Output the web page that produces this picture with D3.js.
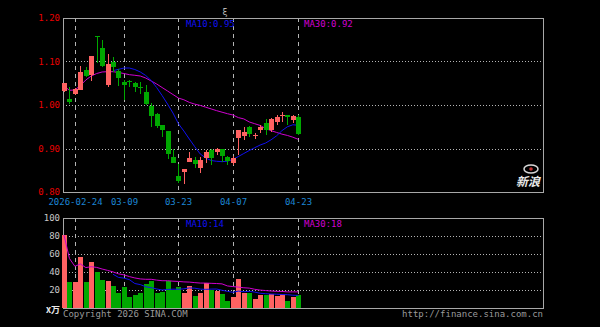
<!DOCTYPE html>
<html>
<head>
<meta charset="utf-8">
<script src="https://cdn.jsdelivr.net/npm/d3@7"></script>
<style>
  html, body { margin: 0; padding: 0; background: #000; }
  svg { display: block; }
  text { font-family: "DejaVu Sans Mono", monospace; font-size: 9px; }
</style>
</head>
<body>
<svg id="chart" width="600" height="327"></svg>
<script>
// trading days shown on the chart
const dates = [
  '2026-02-12', '2026-02-13', '2026-02-24', '2026-02-25', '2026-02-26', '2026-02-27',
  '2026-03-02', '2026-03-03', '2026-03-04', '2026-03-05', '2026-03-06', '2026-03-09',
  '2026-03-10', '2026-03-11', '2026-03-12', '2026-03-13', '2026-03-16', '2026-03-17',
  '2026-03-18', '2026-03-19', '2026-03-20', '2026-03-23', '2026-03-24', '2026-03-25',
  '2026-03-26', '2026-03-27', '2026-03-30', '2026-03-31', '2026-04-01', '2026-04-02',
  '2026-04-03', '2026-04-07', '2026-04-08', '2026-04-09', '2026-04-10', '2026-04-13',
  '2026-04-14', '2026-04-15', '2026-04-16', '2026-04-17', '2026-04-20', '2026-04-21',
  '2026-04-22', '2026-04-23'
];

const opens = [
  1.032, 1.014, 1.025, 1.0345, 1.0805, 1.069, 1.159, 1.130, 1.046, 1.0996, 1.0788,
  1.0536, 1.0552, 1.050, 1.042, 1.0306, 0.9984, 0.979, 0.953, 0.941, 0.881, 0.8375,
  0.8467, 0.869, 0.8736, 0.855, 0.8775, 0.8966, 0.891, 0.898, 0.880, 0.866, 0.9234,
  0.9294, 0.949, 0.929, 0.944, 0.958, 0.9425, 0.962, 0.975, 0.977, 0.965, 0.973
];
const closes = [
  1.050, 1.006, 1.036, 1.0766, 1.0674, 1.1126, 1.156, 1.0897, 1.0936, 1.088, 1.0635,
  1.0476, 1.0529, 1.041, 1.0405, 1.004, 0.9755, 0.952, 0.9425, 0.889, 0.868, 0.826,
  0.853, 0.878, 0.8637, 0.8736, 0.891, 0.879, 0.898, 0.883, 0.8713, 0.8775, 0.9425,
  0.938, 0.933, 0.931, 0.950, 0.941, 0.968, 0.973, 0.977, 0.973, 0.975, 0.935
];
const highs = [
  1.051, 1.041, 1.038, 1.0897, 1.0867, 1.1126, 1.159, 1.149, 1.117, 1.1097, 1.082,
  1.0575, 1.0575, 1.053, 1.053, 1.046, 1.004, 0.982, 0.9535, 0.941, 0.900, 0.864,
  0.853, 0.891, 0.881, 0.880, 0.8966, 0.900, 0.902, 0.900, 0.882, 0.883, 0.9425,
  0.950, 0.952, 0.935, 0.955, 0.968, 0.971, 0.977, 0.985, 0.978, 0.978, 0.977
];
const lows = [
  1.031, 1.002, 1.023, 1.0345, 1.065, 1.055, 1.096, 1.088, 1.042, 1.0766, 1.043,
  1.0115, 1.0407, 1.031, 1.025, 1.000, 0.949, 0.948, 0.927, 0.877, 0.866, 0.821,
  0.8177, 0.869, 0.8545, 0.843, 0.866, 0.8628, 0.885, 0.870, 0.862, 0.862, 0.886,
  0.919, 0.927, 0.922, 0.935, 0.930, 0.937, 0.955, 0.962, 0.954, 0.958, 0.931
];

// price moving averages as drawn on the chart
const ma10 = [
  null, null, null, null, null, null, null, null, null, 1.0790, 1.0820,
  1.0850, 1.0850, 1.0816, 1.0759, 1.0678, 1.0563, 1.0402, 1.0218, 1.0023, 0.9816, 0.9570,
  0.9402, 0.9218, 0.9041, 0.8874, 0.8782, 0.8724, 0.8706, 0.8697, 0.8708, 0.8750, 0.8816,
  0.8885, 0.8954, 0.9018, 0.9080, 0.9126, 0.9200, 0.9290, 0.9410, 0.9500, 0.9545, 0.9535
];
const ma30 = [
  1.0437, 1.0338, 1.0345, 1.0448, 1.0575, 1.0667, 1.0724, 1.0759, 1.0766, 1.0766, 1.0747,
  1.0724, 1.0697, 1.0683, 1.0667, 1.0620, 1.0552, 1.0483, 1.0402, 1.0322, 1.0241, 1.0160,
  1.0120, 1.0060, 1.0020, 0.9990, 0.9950, 0.9910, 0.9870, 0.9835, 0.9800, 0.9770, 0.9710,
  0.9680, 0.9610, 0.9570, 0.9530, 0.9460, 0.9410, 0.9370, 0.9330, 0.9300, 0.9260, 0.9210
];

// volume (x10k) and its moving averages
const volumes = [
  81, 29, 29, 57, 28.5, 51, 40, 31, 30, 24.5, 17,
  23.7, 12, 14.4, 16.3, 26.7, 30.4, 17, 18, 30, 20, 23,
  17, 24.4, 13.3, 17, 27.4, 20, 19.3, 15.5, 7.8, 11.8, 31.8,
  17, 17, 9.6, 14.4, 14.4, 15.5, 13.3, 15.5, 8.1, 12.6, 14.4
];
const volMa10 = [
  null, null, null, null, null, null, null, null, null, 37.5, 34,
  33.2, 31.5, 27.2, 26, 23.6, 22.6, 21.2, 20, 20.6, 20.9, 20.8,
  21.3, 22.3, 22, 21, 20.7, 21, 21.1, 19.7, 18.5, 17.4, 18.8,
  18.1, 18.5, 17.7, 16.4, 15.9, 15.5, 15.3, 15, 14.8, 14.2, 14
];
const volMa30 = [
  81, 55, 46.3, 49, 44.9, 45.9, 45.1, 43.3, 41.8, 40.1, 38,
  36.8, 34.9, 33.4, 32.3, 31.9, 31.9, 31, 30.3, 30.3, 29.8, 29.5,
  29, 28.8, 28.2, 27.7, 27.7, 27.4, 27.2, 26.8, 24.5, 23.8, 23.2,
  22.5, 22.1, 20.8, 19.9, 19.4, 18.9, 18.5, 18.4, 17.9, 17.9, 17.9
];

const dateTicks = ['2026-02-24', '2026-03-09', '2026-03-23', '2026-04-07', '2026-04-23'];
const priceTicks = [0.80, 0.90, 1.00, 1.10, 1.20];
const priceGrid = [0.90, 1.00, 1.10];
const volTicks = [20, 40, 60, 80, 100];
const volGrid = [20, 40, 60, 80];

const UP = '#ff6262', DOWN = '#00a800';
const BLUE = '#1010f0', MAGENTA = '#d000d0';
const FRAME = '#a8a8a8', GRID = '#b4b4b4';

const left = 63, right = 543;
const priceTop = 18, priceBottom = 192;
const volTop = 218, volBottom = 308;

const svg = d3.select('#chart');
svg.append('rect').attr('width', 600).attr('height', 327).attr('fill', '#000');

const x = d3.scaleLinear().domain([0, dates.length - 1]).range([64, 298.3]);
const y = d3.scaleLinear().domain([0.80, 1.20]).range([priceBottom, priceTop]);
const yv = d3.scaleLinear().domain([0, 100]).range([volBottom, volTop]);

const px = i => Math.round(x(i));
const isUp = i => closes[i] >= opens[i];
const idx = d3.range(dates.length);

// horizontal dotted grid
const grid = svg.append('g').attr('shape-rendering', 'crispEdges');
grid.selectAll('.pg').data(priceGrid).enter().append('line')
  .attr('x1', left).attr('x2', right)
  .attr('y1', d => Math.round(y(d)) + 0.5).attr('y2', d => Math.round(y(d)) + 0.5)
  .attr('stroke', GRID).attr('stroke-dasharray', '1,2');
grid.selectAll('.vg').data(volGrid).enter().append('line')
  .attr('x1', left).attr('x2', right)
  .attr('y1', d => Math.round(yv(d)) + 0.5).attr('y2', d => Math.round(yv(d)) + 0.5)
  .attr('stroke', GRID).attr('stroke-dasharray', '1,2');

// vertical dashed lines at the labelled dates
const tickIdx = dateTicks.map(d => dates.indexOf(d));
[[priceTop, priceBottom], [volTop, volBottom]].forEach(([t, b]) => {
  grid.selectAll(null).data(tickIdx).enter().append('line')
    .attr('x1', i => px(i) + 0.5).attr('x2', i => px(i) + 0.5)
    .attr('y1', t).attr('y2', b)
    .attr('stroke', GRID).attr('stroke-dasharray', '4,4');
});

// panel frames
[[priceTop, priceBottom], [volTop, volBottom]].forEach(([t, b]) => {
  svg.append('rect')
    .attr('x', left + 0.5).attr('y', t + 0.5)
    .attr('width', right - left).attr('height', b - t)
    .attr('fill', 'none').attr('stroke', FRAME)
    .attr('shape-rendering', 'crispEdges');
});

const maLine = scale => d3.line()
  .defined(d => d != null)
  .x((d, i) => x(i))
  .y(d => scale(d));

const drawMa = (data, color, scale) => {
  svg.append('path')
    .datum(data)
    .attr('d', maLine(scale))
    .attr('fill', 'none')
    .attr('stroke', color)
    .attr('stroke-width', 1);
};

// price MAs go under the candles
drawMa(ma30, MAGENTA, y);
drawMa(ma10, BLUE, y);

// candles
const candles = svg.append('g').attr('shape-rendering', 'crispEdges');
candles.selectAll('.wick').data(idx).enter().append('line')
  .attr('x1', i => px(i) + 0.5).attr('x2', i => px(i) + 0.5)
  .attr('y1', i => y(highs[i])).attr('y2', i => y(lows[i]))
  .attr('stroke', i => isUp(i) ? UP : DOWN);
candles.selectAll('.body').data(idx).enter().append('rect')
  .attr('x', i => px(i) - 2)
  .attr('width', 5)
  .attr('y', i => Math.round(y(Math.max(opens[i], closes[i]))))
  .attr('height', i => Math.max(1, Math.round(Math.abs(y(opens[i]) - y(closes[i])))))
  .attr('fill', i => isUp(i) ? UP : DOWN);

// volume bars
svg.append('g').attr('shape-rendering', 'crispEdges')
  .selectAll('rect').data(idx).enter().append('rect')
  .attr('x', i => px(i) - 2)
  .attr('width', 5)
  .attr('y', i => Math.round(yv(volumes[i])))
  .attr('height', i => volBottom - Math.round(yv(volumes[i])))
  .attr('fill', i => isUp(i) ? UP : DOWN);

drawMa(volMa30, MAGENTA, yv);
drawMa(volMa10, BLUE, yv);

// axes
const priceAxis = svg.append('g')
  .attr('transform', `translate(${left},0)`)
  .call(d3.axisLeft(y).tickValues(priceTicks).tickFormat(d3.format('.2f')).tickSize(0).tickPadding(3));
priceAxis.select('.domain').remove();
priceAxis.selectAll('text')
  .attr('fill', '#e80000')
  .style('font-family', '"DejaVu Sans Mono", monospace')
  .style('font-size', '9px');

const volAxis = svg.append('g')
  .attr('transform', `translate(${left},0)`)
  .call(d3.axisLeft(yv).tickValues(volTicks).tickSize(0).tickPadding(3));
volAxis.select('.domain').remove();
volAxis.selectAll('text')
  .attr('fill', '#c8c8c8')
  .style('font-family', '"DejaVu Sans Mono", monospace')
  .style('font-size', '9px');

svg.append('text')
  .attr('x', 60).attr('y', 313)
  .attr('text-anchor', 'end')
  .attr('fill', '#e8e8e8')
  .style('font-family', '"Noto Sans CJK SC", sans-serif')
  .style('font-weight', 'bold')
  .text('x万');

// date labels
svg.append('g').selectAll('text').data(tickIdx).enter().append('text')
  .attr('x', i => px(i) + 0.5)
  .attr('y', 205)
  .attr('text-anchor', 'middle')
  .attr('fill', '#1c86d4')
  .text((i, k) => k === 0 ? dates[i] : dates[i].slice(5));

// MA value labels
const last = dates.length - 1;
svg.append('text').attr('x', 186).attr('y', 27).attr('fill', BLUE)
  .text('MA10:' + ma10[last].toFixed(2));
svg.append('text').attr('x', 304).attr('y', 27).attr('fill', MAGENTA)
  .text('MA30:' + ma30[last].toFixed(2));
svg.append('text').attr('x', 186).attr('y', 226.5).attr('fill', BLUE)
  .text('MA10:' + Math.round(volMa10[last]));
svg.append('text').attr('x', 304).attr('y', 226.5).attr('fill', MAGENTA)
  .text('MA30:' + Math.round(volMa30[last]));

// footer
svg.append('text').attr('x', 63).attr('y', 316.5).attr('fill', '#9a9a9a')
  .text('Copyright 2026 SINA.COM');
svg.append('text').attr('x', 543).attr('y', 316.5).attr('text-anchor', 'end').attr('fill', '#9a9a9a')
  .text('http://finance.sina.com.cn');

// small glyph above the chart
svg.append('text').attr('x', 225).attr('y', 15).attr('text-anchor', 'middle')
  .attr('fill', '#bbbbbb').text('ξ');

// sina logo
const logo = svg.append('g').attr('transform', 'translate(528,176)');
logo.append('ellipse').attr('cx', 3).attr('cy', -7).attr('rx', 7).attr('ry', 4)
  .attr('fill', 'none').attr('stroke', '#d8d8d8').attr('stroke-width', 1.5);
logo.append('circle').attr('cx', 3).attr('cy', -7).attr('r', 1.8).attr('fill', '#c03030');
logo.append('text').attr('x', 0).attr('y', 10).attr('text-anchor', 'middle')
  .attr('fill', '#e8e8e8')
  .style('font-family', '"Noto Sans CJK SC", sans-serif')
  .style('font-size', '12px').style('font-weight', 'bold').style('font-style', 'italic')
  .text('新浪');
</script>
</body>
</html>
